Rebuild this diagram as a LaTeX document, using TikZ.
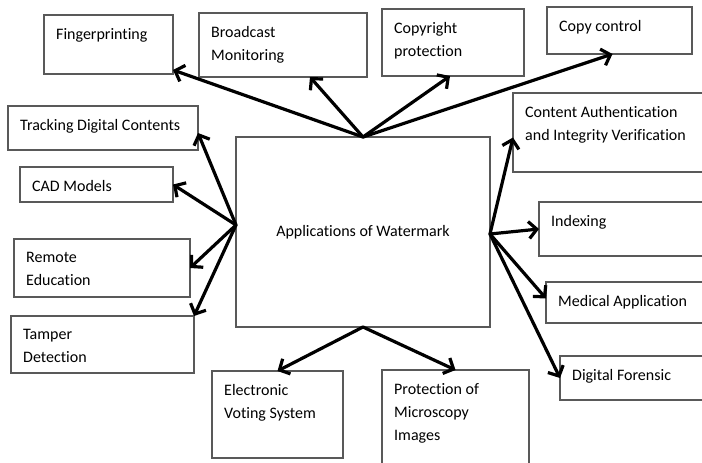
\documentclass[tikz,border=0pt]{standalone}
\usepackage{fontspec}
\setmainfont{Carlito}[Ligatures=NoCommon]
\usetikzlibrary{arrows.meta}
\tikzset{
  appbox/.style={draw=black!65, line width=1.2pt, inner sep=0pt, outer sep=0pt, anchor=north west},
  apptext/.style={anchor=north west, align=left, inner xsep=12pt, inner ysep=13pt,
    font=\fontsize{16}{23}\selectfont},
  apparrow/.style={line width=3.2pt, line cap=round, -{Straight Barb[length=8pt,width=17pt]}}
}
% box: name, x, y, width, height, text
\newcommand{\appbox}[6]{%
  \node[appbox, minimum width=#4pt, minimum height=#5pt,
    label={[apptext]north west:{#6}}] (#1) at (#2,#3) {};}

\begin{document}
\begin{tikzpicture}[x=1pt,y=-1pt]
\useasboundingbox (0,0) rectangle (702,463);
\clip (0,0) rectangle (702,463);
% centre
\node[appbox, minimum width=254pt, minimum height=190pt,
  font=\fontsize{16}{23}\selectfont] (main) at (236,137) {Applications of Watermark};
% top row
\appbox{finger}{44}{15}{129}{59}{Fingerprinting}
\appbox{broad}{199}{13}{168}{64}{Broadcast\\Monitoring}
\appbox{copyr}{382}{9}{142}{67}{Copyright\\protection}
\appbox{copyc}{547}{7}{145}{47}{Copy control}
% left column
\appbox{track}{8}{106}{190}{44}{Tracking Digital Contents}
\appbox{cad}{20}{167}{153}{35}{CAD Models}
\appbox{remote}{14}{239}{176}{58}{Remote\\Education}
\appbox{tamper}{11}{316}{183}{57}{Tamper\\Detection}
% right column
\appbox{auth}{513}{93}{200}{79}{Content Authentication\\and Integrity Verification}
\appbox{index}{539}{202}{170}{54}{Indexing}
\appbox{medical}{546}{282}{170}{41}{Medical Application}
\appbox{forensic}{560}{356}{150}{44}{Digital Forensic}
% bottom row
\appbox{voting}{212}{371}{131}{87}{Electronic\\Voting System}
\appbox{micro}{382}{370}{147}{100}{Protection of\\Microscopy\\Images}
% arrows from the top
\draw[apparrow] (main.north) -- ([yshift=4pt]finger.south east);
\draw[apparrow] (main.north) -- ([xshift=27pt]broad.south);
\draw[apparrow] (main.north) -- ([xshift=-3pt]copyr.south);
\draw[apparrow] (main.north) -- ([xshift=-7pt]copyc.south);
% arrows to the left
\draw[apparrow] ([yshift=7pt]main.west) -- ([yshift=17pt]track.south east);
\draw[apparrow] ([yshift=7pt]main.west) -- (cad.east);
\draw[apparrow] ([yshift=7pt]main.west) -- (remote.east);
\draw[apparrow] ([yshift=7pt]main.west) -- (tamper.north east);
% arrows to the right
\draw[apparrow] ([yshift=-2pt]main.east) -- ([yshift=-5pt]auth.west);
\draw[apparrow] ([yshift=-2pt]main.east) -- (index.west);
\draw[apparrow] ([yshift=-2pt]main.east) -- ([yshift=4pt]medical.west);
\draw[apparrow] ([yshift=-2pt]main.east) -- (forensic.west);
% arrows from the bottom
\draw[apparrow] (main.south) -- (voting.north);
\draw[apparrow] (main.south) -- (micro.north);
\end{tikzpicture}
\end{document}
